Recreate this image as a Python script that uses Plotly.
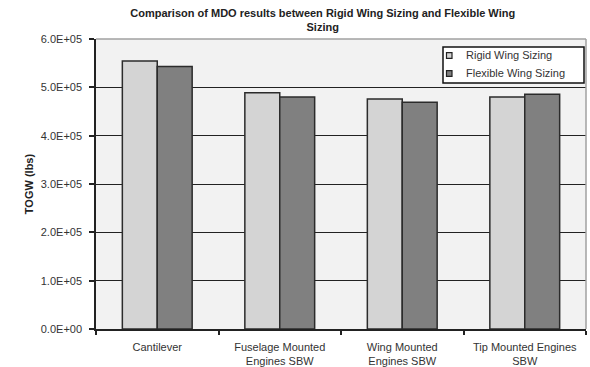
import plotly.graph_objects as go

# Configurations compared
categories = [
    "Cantilever",
    "Fuselage Mounted<br>Engines SBW",
    "Wing Mounted<br>Engines SBW",
    "Tip Mounted Engines<br>SBW",
]
# Take-off gross weight (lbs)
rigid_togw = [554500, 489000, 476000, 480000]
flexible_togw = [543000, 480000, 469000, 485500]

series_names = ["Rigid Wing Sizing", "Flexible Wing Sizing"]
series_colors = ["#d4d4d4", "#808080"]

y_ticks = [0, 100000, 200000, 300000, 400000, 500000, 600000]
y_tick_labels = [f"{v:.1E}" for v in y_ticks]

FONT = "Liberation Sans, Arial, sans-serif"
W, H = 590, 367
ML, MR, MT, MB = 96, 4, 39, 38
PW, PH = W - ML - MR, H - MT - MB


def px_x(px):
    return (px - ML) / PW


def px_y(py):
    return (H - MB - py) / PH


fig = go.Figure()
for name, vals, col in zip(series_names, [rigid_togw, flexible_togw], series_colors):
    fig.add_trace(go.Bar(
        x=categories, y=vals, name=name, showlegend=False,
        marker=dict(color=col, line=dict(color="#2b2b2b", width=1.5)),
    ))

fig.update_layout(
    width=W, height=H,
    margin=dict(l=ML, r=MR, t=MT, b=MB),
    paper_bgcolor="white",
    plot_bgcolor="#f2f2f2",
    font=dict(family=FONT, size=11, color="#333333"),
    barmode="group",
    bargap=0.43,
    bargroupgap=0,
    title=dict(
        text="<b>Comparison of MDO results between Rigid Wing Sizing and Flexible Wing<br>Sizing</b>",
        x=273 / W, xref="paper", xanchor="center",
        y=1 - 17 / H, yref="container", yanchor="top",
        font=dict(family=FONT, size=11, color="#222222"),
    ),
    xaxis=dict(
        automargin=False,
        showline=True, linecolor="#222222", linewidth=1.5,
        ticks="outside", ticklen=4, tickcolor="#222222", tickwidth=1.5,
        tickson="boundaries", ticklabelstandoff=7,
        tickfont=dict(family=FONT, size=11, color="#333333"),
        showgrid=False,
    ),
    yaxis=dict(
        automargin=False,
        range=[0, 600000],
        tickvals=y_ticks, ticktext=y_tick_labels,
        showline=True, linecolor="#222222", linewidth=1.5,
        ticks="outside", ticklen=5, tickcolor="#222222", tickwidth=1.5,
        ticklabelstandoff=5,
        showgrid=True, gridcolor="#222222", gridwidth=1.2,
        zeroline=False,
        tickfont=dict(family=FONT, size=11, color="#333333"),
        title=dict(text="<b>TOGW (lbs)</b>", standoff=5,
                   font=dict(family=FONT, size=11, color="#222222")),
    ),
)

# plot-area frame: gray on top and right
fig.add_shape(type="line", xref="paper", yref="paper", x0=0, x1=1, y0=1, y1=1,
              line=dict(color="#a0a0a0", width=1.5), layer="above")
fig.add_shape(type="line", xref="paper", yref="paper", x0=1, x1=1, y0=0, y1=1,
              line=dict(color="#a0a0a0", width=1.5), layer="above")

# legend box with small square keys
fig.add_shape(type="rect", xref="paper", yref="paper",
              x0=px_x(443), x1=px_x(584), y0=px_y(83), y1=px_y(47),
              fillcolor="white", line=dict(color="#111111", width=1.5), layer="above")
for i, (name, col) in enumerate(zip(series_names, series_colors)):
    cy = 55.5 + 18 * i
    fig.add_shape(type="rect", xref="paper", yref="paper",
                  x0=px_x(446.5), x1=px_x(452), y0=px_y(cy + 2.8), y1=px_y(cy - 2.8),
                  fillcolor=col, line=dict(color="#222222", width=1.2), layer="above")
    fig.add_annotation(text=name, xref="paper", yref="paper",
                       x=px_x(464), y=px_y(cy), xanchor="left", yanchor="middle",
                       showarrow=False, font=dict(family=FONT, size=11, color="#333333"))

fig.write_html("out.html")
